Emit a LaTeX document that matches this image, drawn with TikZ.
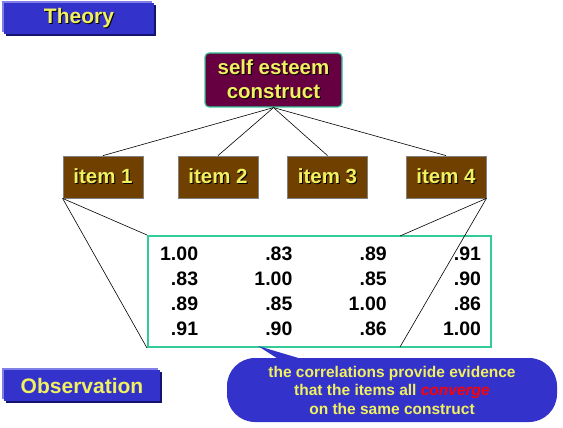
\documentclass[tikz,border=0pt]{standalone}
\usepackage{fontspec}
\setmainfont{Liberation Sans}
\usepackage{tikz}
\usetikzlibrary{shadows}

\definecolor{boxblue}{RGB}{51,51,204}
\definecolor{edgelight}{RGB}{128,128,230}
\definecolor{edgedark}{RGB}{20,20,110}
\definecolor{plum}{RGB}{102,0,64}
\definecolor{tealline}{RGB}{51,204,153}
\definecolor{itembrown}{RGB}{112,64,0}
\definecolor{txtyellow}{RGB}{240,240,96}

% yellow text with a small dark drop shadow
\newcommand{\shd}[1]{\leavevmode\rlap{\kern1pt\raisebox{-1pt}{\color{black}#1}}#1}

\begin{document}
\begin{tikzpicture}[x=1pt, y=-1pt,
    levelbox/.style={fill=boxblue, text=txtyellow, inner sep=0pt, minimum height=31pt,
        font=\fontsize{21}{24}\selectfont\bfseries,
        general shadow={fill=edgelight, shadow xshift=-2pt, shadow yshift=2pt},
        general shadow={fill=edgedark, shadow xshift=2pt, shadow yshift=-2pt}},
    construct/.style={fill=plum, draw=tealline, line width=1.2pt, rounded corners=4pt,
        text=txtyellow, align=center, minimum width=137pt, minimum height=54pt,
        font=\fontsize{20.5}{24}\selectfont\bfseries},
    itembox/.style={fill=itembrown, draw=gray, line width=0.8pt, text=txtyellow,
        minimum width=80pt, minimum height=42pt, font=\fontsize{20.5}{24}\selectfont\bfseries},
    corrbox/.style={fill=white, draw=tealline, line width=2pt,
        minimum width=343pt, minimum height=111pt},
    cell/.style={inner sep=0pt, font=\fontsize{19.5}{20}\selectfont\bfseries},
    callout/.style={fill=boxblue, rounded corners=28pt, text=txtyellow, align=center,
        minimum width=330pt, minimum height=64pt, inner sep=0pt,
        font=\fontsize{15.5}{18.5}\selectfont\bfseries},
    link/.style={line width=0.6pt, black}]
    \useasboundingbox (0,0) rectangle (563,428);

    % --- 1. level labels ---
    \node[levelbox, minimum width=150pt] (theory) at (79,19) {\shd{Theory}};
    \node[levelbox, minimum width=156pt] (obs) at (82,385.5) {Observation};

    % --- 2. construct and its items ---
    \node[construct] (cons) at (273.5,80) {\shd{self esteem}\\\shd{construct}};
    \foreach \x [count=\i] in {103,218,327.5,446}
        \node[itembox] (item\i) at (\x,177) {\shd{item \i}};
    \foreach \i in {1,...,4}
        \draw[link] (cons.south) -- (item\i.north);

    % --- 3. correlation table ---
    \node[corrbox] (corr) at (319.5,291.5) {};
    \foreach \row [count=\r] in {{1.00,.83,.89,.91},{.83,1.00,.85,.90},{.89,.85,1.00,.86},{.91,.90,.86,1.00}}
        \foreach \v [count=\c] in \row
            \node[cell, anchor=east] (c\r\c) at ({104+94.3*\c},{229+25*\r}) {\v};

    % --- 4. items 1 and 4 to the table ---
    \coordinate (t4) at (400,236);
    \coordinate (b4) at (400,347);
    \draw[link] (item1.south west) -- (corr.north west);
    \draw[link] (item1.south west) -- (corr.south west);
    \draw[link] (item4.south east) -- (t4);
    \draw[link] (item4.south east) -- (b4);

    % --- 5. callout ---
    \coordinate (tip) at (258,346);
    \fill[boxblue] (tip) -- (283,362) -- (312,362) -- cycle;
    \node[callout] (note) at (392,390)
        {the correlations provide evidence\\that the items all {\color{red}\itshape converge}\\on the same construct};
\end{tikzpicture}
\end{document}
